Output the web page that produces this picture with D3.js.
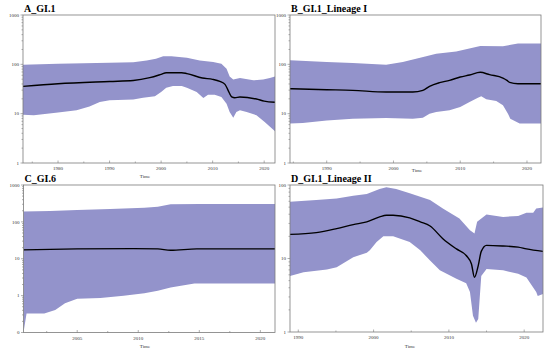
<!DOCTYPE html>
<html>
<head>
<meta charset="utf-8">
<script src="https://cdn.jsdelivr.net/npm/d3@7"></script>
<style>
  body { margin: 0; background: #fff; }
  svg { display: block; }
  text { font-family: "Liberation Serif", "Times New Roman", serif; }
</style>
</head>
<body>
<div id="chart"></div>
<script>
// ------------------------------------------------------------
// Skyline plots — effective population size over time (log y)
// ------------------------------------------------------------

// Panel A: GI.1
const aMedian = [[1973.2,35.8],[1980,40.5],[1990,45],[1994.6,47],[1997.8,53.6],[2000,62.7],[2001,67.7],[2004,67.7],[2005,65],[2008,52.8],[2010,49.6],[2011.4,45],[2012.4,39.3],[2013,29.7],[2013.7,21.8],[2014.3,21],[2015.3,21.8],[2018.5,19.8],[2020,18],[2022.1,17]];
const aUpper = [[1973.2,98.5],[1980,103],[1990,108],[1994.6,110],[1997.2,120],[1999,130],[2000.4,145],[2002,145],[2005,136],[2007.5,120],[2010.1,111],[2011.7,103],[2012.7,81],[2013.3,57],[2014,49],[2015.3,53],[2017.9,47.4],[2019.8,49],[2021.1,53],[2022.1,57]];
const aLower = [[1973.2,9.5],[1975.3,9.3],[1980,10.5],[1983.6,11.7],[1986.1,14],[1988.1,17.2],[1990,18.6],[1994.6,19.3],[1996.5,21],[1998.8,22.5],[2000,27.5],[2001,33.6],[2002.3,36.5],[2004,36.5],[2005,33.6],[2006.9,27.5],[2008.2,20.8],[2009.1,24.3],[2010.4,24.3],[2011.7,21.8],[2012.7,15.9],[2013.3,10.8],[2014,8.3],[2014.6,10.8],[2015.3,11.7],[2016.6,10.8],[2018.5,9.3],[2020.1,6.8],[2022.1,4.4]];

// Panel B: GI.1 Lineage I
const bMedian = [[1984.4,32],[1990,30.6],[1993.9,29.7],[1998.9,27.5],[2002.9,27.5],[2004.4,29.7],[2005.4,35.8],[2006.9,42.5],[2008.4,47.4],[2010,55.4],[2011.4,60.8],[2013,68.9],[2014.4,61.7],[2016.4,52.8],[2017,47.4],[2017.4,43.2],[2018.65,40.5],[2022.2,40.5]];
const bUpper = [[1984.4,121],[1990,111],[1993.9,107],[1998.9,98.5],[2001.4,111],[2004.9,145],[2006.4,164],[2009.4,183],[2013,235],[2016.4,232],[2018.65,264],[2022.2,264]];
const bLower = [[1984.4,6.3],[1986.4,6.5],[1990,7.3],[1993.9,7.9],[1998.9,8.2],[2002.9,7.9],[2004.4,8.3],[2005.4,10],[2006.4,10.8],[2008.4,11.7],[2010,13.6],[2011.4,17.2],[2012.65,21],[2013.15,22.5],[2013.9,19.5],[2015.4,18],[2016.4,14.8],[2017.15,10],[2017.5,7.9],[2018.9,6.3],[2022.2,6.3]];

// Panel C: GI.6
const cMedian = [[2000.6,17.4],[2005,18.5],[2009.6,18.8],[2011.6,18.5],[2012.65,17],[2014.8,18.5],[2021.3,18.5]];
const cUpper = [[2000.6,190],[2002.8,197],[2005,210],[2007.7,223],[2010.5,243],[2011.6,257],[2012.65,299],[2015.1,303],[2021.3,303]];
const cLower = [[2000.6,0.1],[2000.85,0.33],[2002.3,0.33],[2003.2,0.41],[2004,0.62],[2005,0.82],[2006.9,0.86],[2008.8,1.0],[2010.5,1.16],[2011.6,1.35],[2012.65,1.66],[2013.5,1.84],[2014.6,2.12],[2021.3,2.12]];

// Panel D: GI.1 Lineage II
const dMedian = [[1988.9,21.3],[1992.4,22.5],[1995.1,25.5],[1997.3,28.9],[1999.1,31.5],[2000.8,36.8],[2001.7,38.8],[2002.6,38.8],[2004.8,35.7],[2006.2,31.5],[2007.5,27.7],[2009.2,18.6],[2011,13.5],[2012.3,11],[2013,8.4],[2013.4,5.55],[2013.9,8.0],[2014.3,12.5],[2015,15.1],[2017.2,14.8],[2019.2,14.3],[2020.3,13.5],[2022.5,12.5]];
const dUpper = [[1988.9,59],[1992.4,62.4],[1995.1,65.6],[1997.3,71.5],[1999.1,75.4],[2000.8,88],[2001.7,93],[2003,88],[2004.8,77],[2007.5,62.4],[2009.2,47.9],[2011.4,34.9],[2012.8,24.2],[2013.4,21.8],[2013.75,31.5],[2015,39.6],[2017.2,36.8],[2019.2,38],[2020.3,41.8],[2021.2,42],[2021.6,47.9],[2022.5,49.4]];
const dLower = [[1988.9,5.8],[1990.7,6.5],[1993.8,7.1],[1995.1,7.6],[1997.3,10.4],[1999.1,12],[1999.5,12.9],[2000.4,16.8],[2001.3,20],[2002.6,20],[2004.8,16.8],[2006.2,12.9],[2007.5,9.4],[2008.8,6.9],[2011,5.3],[2012.3,4.6],[2012.8,3.5],[2013.2,1.66],[2013.6,1.34],[2013.9,1.5],[2014.3,5.8],[2015,7.2],[2017.2,6.9],[2019.2,6.2],[2020.3,5.5],[2021.6,3.5],[2021.8,3.1],[2022.5,3.3]];

// Tick labels
const aXTicks = [1980, 1990, 2000, 2010, 2020];
const bXTicks = [1990, 2000, 2010, 2020];
const cXTicks = [2005, 2010, 2015, 2020];
const dXTicks = [1990, 2000, 2010, 2020];

const W = 550, H = 355;
const BAND = '#9393cb';
const AXIS = '#7a7a7a';

const panels = [
  { title: 'A_GI.1', box: [23, 15, 275, 163], x: [1973.2, 2022.1], y: [1, 1000], xTicks: aXTicks, minor: 5,
    median: aMedian, upper: aUpper, lower: aLower, timeAt: [145, 178] },
  { title: 'B_GI.1_Lineage I', box: [290, 15, 541, 163], x: [1984.5, 2022.1], y: [1, 1000], xTicks: bXTicks, minor: 5,
    median: bMedian, upper: bUpper, lower: bLower, timeAt: [417, 172] },
  { title: 'C_GI.6', box: [23.5, 185, 275, 332.5], x: [2000.6, 2021.2], y: [0.1, 1000], xTicks: cXTicks, minor: 2.5,
    median: cMedian, upper: cUpper, lower: cLower, timeAt: [145, 348], zeroLabel: true },
  { title: 'D_GI.1_Lineage II', box: [290, 185, 543, 332], x: [1988.9, 2022.5], y: [1, 100], xTicks: dXTicks, minor: 5,
    median: dMedian, upper: dUpper, lower: dLower, timeAt: [410, 348] }
];

const svg = d3.select('#chart').append('svg')
  .attr('width', W).attr('height', H);

panels.forEach((p, i) => {
  const [x0, y0, x1, y1] = p.box;
  const x = d3.scaleLinear().domain(p.x).range([x0, x1]);
  const y = d3.scaleLog().domain(p.y).range([y1, y0]);
  const g = svg.append('g');

  // Clip
  const clipId = 'clip' + i;
  g.append('clipPath').attr('id', clipId)
    .append('rect').attr('x', x0).attr('y', y0).attr('width', x1 - x0).attr('height', y1 - y0);

  // Band (upper forward, lower back)
  const poly = p.upper.concat(p.lower.slice().reverse());
  const line = d3.line().x(d => x(d[0])).y(d => y(d[1]));
  g.append('path')
    .attr('clip-path', `url(#${clipId})`)
    .attr('d', line(poly) + 'Z')
    .attr('fill', BAND);

  // Median
  g.append('path')
    .attr('clip-path', `url(#${clipId})`)
    .attr('d', line.curve(d3.curveMonotoneX)(p.median))
    .attr('fill', 'none')
    .attr('stroke', '#000')
    .attr('stroke-width', 1.4);

  // Frame
  g.append('rect')
    .attr('x', x0).attr('y', y0).attr('width', x1 - x0).attr('height', y1 - y0)
    .attr('fill', 'none').attr('stroke', AXIS).attr('stroke-width', 0.8);

  // Y axis: log ticks, label only decades
  const lo = Math.round(Math.log10(p.y[0])), hi = Math.round(Math.log10(p.y[1]));
  const yTicks = [];
  for (let k = lo; k < hi; k++) for (let m = 1; m < 10; m++) yTicks.push(m * Math.pow(10, k));
  yTicks.push(Math.pow(10, hi));
  yTicks.forEach(v => {
    const major = Math.abs(Math.log10(v) - Math.round(Math.log10(v))) < 1e-9;
    g.append('line')
      .attr('x1', x0 - (major ? 2.5 : 1.5)).attr('x2', x0)
      .attr('y1', y(v)).attr('y2', y(v))
      .attr('stroke', AXIS).attr('stroke-width', 0.6);
    if (major) {
      const lab = v < 1 ? (p.zeroLabel ? '0' : String(v)) : String(v);
      g.append('text')
        .attr('x', x0 - 4).attr('y', y(v) + 1.7)
        .attr('text-anchor', 'end').attr('font-size', 5).attr('fill', '#333')
        .text(lab);
    }
  });

  // X axis: inward ticks, minor between labels
  const xm = [];
  for (let t = Math.ceil(p.x[0] / p.minor) * p.minor; t <= p.x[1]; t += p.minor) xm.push(t);
  xm.forEach(t => {
    const major = p.xTicks.includes(t);
    g.append('line')
      .attr('x1', x(t)).attr('x2', x(t))
      .attr('y1', y1).attr('y2', y1 - (major ? 2.5 : 1.5))
      .attr('stroke', AXIS).attr('stroke-width', 0.6);
  });
  p.xTicks.forEach(t => {
    g.append('text')
      .attr('x', x(t)).attr('y', y1 + 7)
      .attr('text-anchor', 'middle').attr('font-size', 5).attr('fill', '#333')
      .text(t);
  });

  // Axis title
  g.append('text')
    .attr('x', p.timeAt[0]).attr('y', p.timeAt[1])
    .attr('text-anchor', 'middle').attr('font-size', 5).attr('fill', '#333')
    .text('Time');

  // Panel title
  g.append('text')
    .attr('x', x0 + 1).attr('y', y0 - 3)
    .attr('font-size', 10).attr('font-weight', 'bold').attr('fill', '#000')
    .text(p.title);
});
</script>
</body>
</html>
